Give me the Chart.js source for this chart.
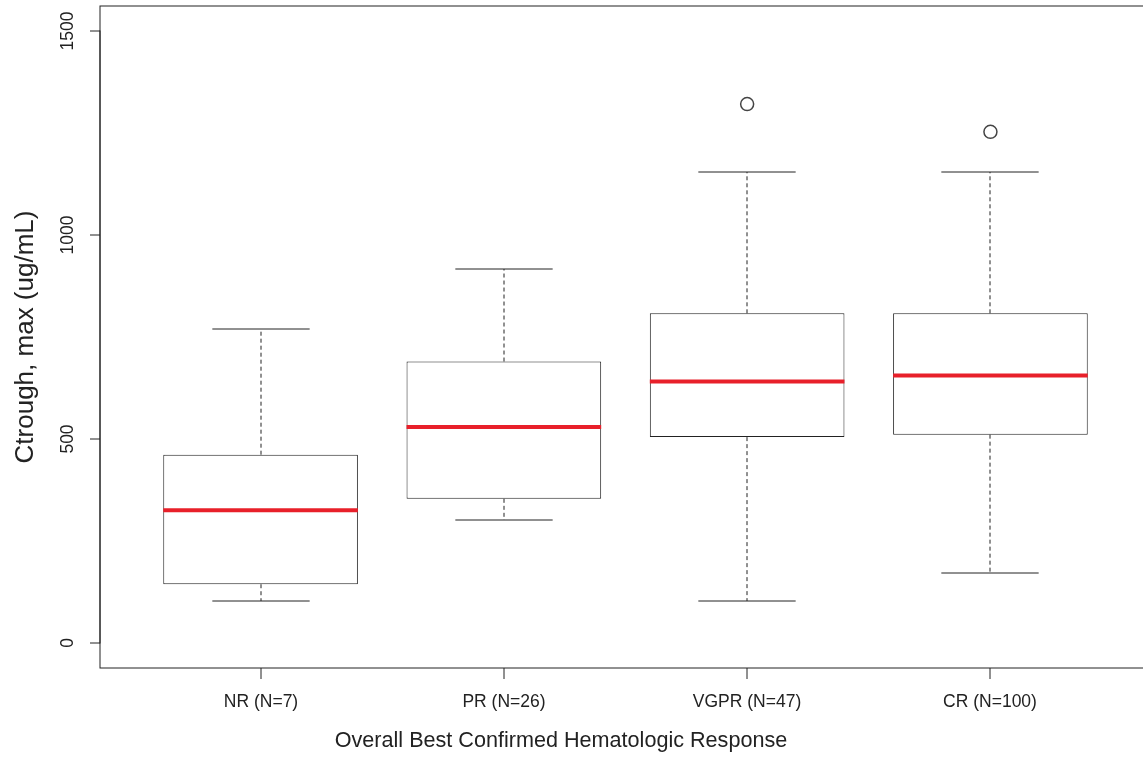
<!DOCTYPE html>
<html>
<head>
<meta charset="utf-8">
<script src="https://cdn.jsdelivr.net/npm/chart.js@4.4.1/dist/chart.umd.min.js"></script>
<style>
  html, body { margin: 0; padding: 0; background: #fff; }
  #wrap { width: 1143px; height: 757px; overflow: hidden; }
  #inner { width: 1152px; height: 757px; }
  canvas { display: block; width: 1152px; height: 757px; }
</style>
</head>
<body>
<div id="wrap"><div id="inner"><canvas id="chart" width="1152" height="757"></canvas></div></div>
<script>
// Ctrough max by best confirmed hematologic response
const categories = ['NR (N=7)', 'PR (N=26)', 'VGPR (N=47)', 'CR (N=100)'];
const whiskerLow = [103, 302, 103, 172];
const q1 = [145, 354, 505, 511];
const medians = [326, 530, 641, 656];
const q3 = [462, 690, 808, 808];
const whiskerHigh = [770, 916, 1153, 1153];
const outlierGroups = [3, 4];
const outlierValues = [1320, 1252];
const yTicks = [0, 500, 1000, 1500];

const FONT = "'Liberation Sans', Arial, sans-serif";
const INK = '#222';

function seg(ctx, x1, y1, x2, y2) {
    ctx.beginPath();
    ctx.moveTo(x1, y1);
    ctx.lineTo(x2, y2);
    ctx.stroke();
}

const boxplotExtras = {
    id: 'boxplotExtras',
    beforeDatasetsDraw(chart) {
        const { ctx, scales: { x, y } } = chart;
        const bars = chart.getDatasetMeta(0).data;
        ctx.save();
        ctx.strokeStyle = INK;
        ctx.lineWidth = 1;
        categories.forEach((c, i) => {
            const cx = Math.round(x.getPixelForValue(i + 1));
            const capHalf = bars[i].width / 4;
            const hi = Math.round(y.getPixelForValue(whiskerHigh[i]));
            const lo = Math.round(y.getPixelForValue(whiskerLow[i]));
            // dashed whiskers
            ctx.setLineDash([4, 3]);
            seg(ctx, cx, y.getPixelForValue(q3[i]), cx, hi);
            seg(ctx, cx, y.getPixelForValue(q1[i]), cx, lo);
            ctx.setLineDash([]);
            // whisker caps
            seg(ctx, cx - capHalf, hi, cx + capHalf, hi);
            seg(ctx, cx - capHalf, lo, cx + capHalf, lo);
        });
        ctx.restore();
    },
    afterDatasetsDraw(chart) {
        const { ctx, scales: { y } } = chart;
        const bars = chart.getDatasetMeta(0).data;
        ctx.save();
        ctx.strokeStyle = '#e8202a';
        ctx.lineWidth = 4;
        medians.forEach((m, i) => {
            const py = y.getPixelForValue(m);
            seg(ctx, bars[i].x - bars[i].width / 2, py, bars[i].x + bars[i].width / 2, py);
        });
        ctx.restore();
    },
    afterDraw(chart) {
        const { ctx, chartArea: { left, right, top, bottom }, scales: { x, y } } = chart;
        ctx.save();
        ctx.strokeStyle = INK;
        ctx.lineWidth = 1;
        ctx.strokeRect(left, top, right - left, bottom - top);

        // y axis: ticks and rotated labels
        ctx.fillStyle = INK;
        ctx.font = '17.5px ' + FONT;
        ctx.textAlign = 'center';
        ctx.textBaseline = 'middle';
        seg(ctx, left, y.getPixelForValue(yTicks[0]), left, y.getPixelForValue(yTicks[yTicks.length - 1]));
        yTicks.forEach(v => {
            const py = Math.round(y.getPixelForValue(v));
            seg(ctx, left - 10, py, left, py);
            ctx.save();
            ctx.translate(left - 32, py);
            ctx.rotate(-Math.PI / 2);
            ctx.fillText(String(v), 0, 0);
            ctx.restore();
        });

        // x axis: ticks and category labels
        categories.forEach((c, i) => {
            const px = Math.round(x.getPixelForValue(i + 1));
            seg(ctx, px, bottom, px, bottom + 11);
            ctx.fillText(c, px, bottom + 34);
        });

        // axis titles
        ctx.font = '21.6px ' + FONT;
        ctx.fillText('Overall Best Confirmed Hematologic Response', 561, 741);
        ctx.save();
        ctx.translate(26, (top + bottom) / 2);
        ctx.rotate(-Math.PI / 2);
        ctx.font = '26px ' + FONT;
        ctx.fillText('Ctrough, max (ug/mL)', 0, 0);
        ctx.restore();
        ctx.restore();
    }
};

new Chart(document.getElementById('chart'), {
    type: 'bar',
    data: {
        datasets: [
            {
                type: 'bar',
                data: categories.map((c, i) => ({ x: i + 1, y: [q1[i], q3[i]] })),
                backgroundColor: '#fff',
                borderColor: INK,
                borderWidth: 1,
                borderSkipped: false,
                barPercentage: 0.8,
                categoryPercentage: 1
            },
            {
                type: 'scatter',
                data: outlierGroups.map((g, i) => ({ x: g, y: outlierValues[i] })),
                pointRadius: 6.5,
                pointBackgroundColor: '#fff',
                pointBorderColor: '#444',
                pointBorderWidth: 1.5
            }
        ]
    },
    options: {
        responsive: false,
        animation: false,
        layout: {
            autoPadding: false,
            padding: { left: 100, top: 6, right: 1, bottom: 89 }
        },
        plugins: {
            legend: { display: false },
            tooltip: { enabled: false }
        },
        scales: {
            x: {
                type: 'linear',
                display: false,
                offset: false,
                min: 0.34,
                max: 4.66,
                afterBuildTicks: axis => {
                    axis.ticks = categories.map((c, i) => ({ value: i + 1 }));
                }
            },
            y: {
                type: 'linear',
                display: false,
                min: -60,
                max: 1560
            }
        }
    },
    plugins: [boxplotExtras]
});
</script>
</body>
</html>
